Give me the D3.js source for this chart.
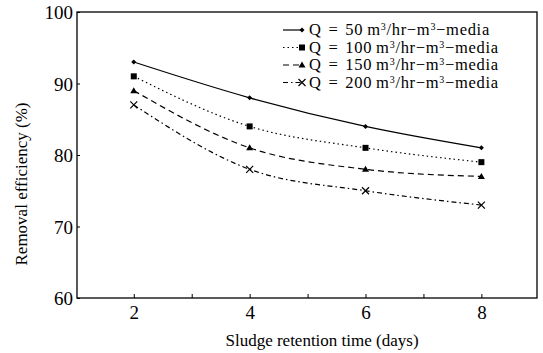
<!DOCTYPE html>
<html><head><meta charset="utf-8">
<script src="https://cdnjs.cloudflare.com/ajax/libs/d3/7.8.5/d3.min.js"></script>
<style>body{margin:0;background:#fff}svg{display:block;font-family:"Liberation Serif","Times New Roman",serif}</style>
</head><body><svg id="c" width="543" height="353"></svg>
<script>
const srt = [2, 4, 6, 8];
const q50 = [93, 88, 84, 81];
const q100 = [91, 84, 81, 79];
const q150 = [89, 81, 78, 77];
const q200 = [87, 78, 75, 73];
const seriesNames = ["50", "100", "150", "200"];
const xTicks = [2, 4, 6, 8];
const yTicks = [60, 70, 80, 90, 100];

const FONT = "'Liberation Serif','Times New Roman',serif";
const svg = d3.select("#c");
const L = 77, R = 537, T = 12, B = 298;
const x = d3.scaleLinear().domain([1.02, 8.96]).range([L, R]);
const y = d3.scaleLinear().domain([60, 100]).range([B, T]);

const series = [
  {vals: q50, dash: null, marker: "dot"},
  {vals: q100, dash: "1.5,3", marker: "square"},
  {vals: q150, dash: "6,4", marker: "tri"},
  {vals: q200, dash: "5,3,1.5,3", marker: "x"}
];

svg.append("rect").attr("x", L).attr("y", T).attr("width", R - L).attr("height", B - T)
  .attr("fill", "none").attr("stroke", "#000").attr("stroke-width", 1.3);

const xa = svg.append("g").attr("transform", `translate(0,${B})`)
  .call(d3.axisBottom(x).tickValues(d3.range(2, 9, 1)).tickSize(-4).tickFormat(d => xTicks.includes(d) ? d : "").tickPadding(8));
xa.select(".domain").remove();
xa.attr("font-family", FONT);
xa.selectAll("text").attr("font-size", 19).attr("fill", "#000").attr("dy", "0.71em");
const ya = svg.append("g").attr("transform", `translate(${L},0)`)
  .call(d3.axisLeft(y).tickValues(yTicks).tickSize(-3).tickPadding(4));
ya.select(".domain").remove();
ya.attr("font-family", FONT);
ya.selectAll("text").attr("font-size", 19).attr("fill", "#000").attr("dy", "0.35em");

svg.append("text").attr("x", 322).attr("y", 346).attr("text-anchor", "middle")
  .attr("font-size", 17).text("Sludge retention time (days)");
svg.append("text").attr("transform", "translate(27,184) rotate(-90)").attr("text-anchor", "middle")
  .attr("font-size", 17).text("Removal efficiency (%)");

const line = d3.line().x((d, i) => x(srt[i])).y(d => y(d)).curve(d3.curveMonotoneX);

function marker(g, type, cx, cy) {
  if (type === "dot") g.append("path").attr("d", `M${cx-2.5},${cy}L${cx},${cy-2.5}L${cx+2.5},${cy}L${cx},${cy+2.5}Z`).attr("fill", "#000");
  else if (type === "square") g.append("rect").attr("x", cx - 3).attr("y", cy - 3).attr("width", 6).attr("height", 6).attr("fill", "#000");
  else if (type === "tri") g.append("path").attr("d", `M${cx},${cy-3.5}L${cx+3.5},${cy+2.5}L${cx-3.5},${cy+2.5}Z`).attr("fill", "#000");
  else g.append("path").attr("d", `M${cx-3.5},${cy-3.5}L${cx+3.5},${cy+3.5}M${cx-3.5},${cy+3.5}L${cx+3.5},${cy-3.5}`).attr("stroke", "#000").attr("stroke-width", 1.2);
}

series.forEach(s => {
  svg.append("path").datum(s.vals).attr("d", line).attr("fill", "none").attr("stroke", "#000")
    .attr("stroke-width", 1.2).attr("stroke-dasharray", s.dash);
  s.vals.forEach((v, i) => marker(svg, s.marker, x(srt[i]), y(v)));
});

const lg = svg.append("g");
series.forEach((s, i) => {
  const yy = 30 + i * 17.5;
  lg.append("line").attr("x1", 283).attr("x2", 302).attr("y1", yy).attr("y2", yy)
    .attr("stroke", "#000").attr("stroke-width", 1.2).attr("stroke-dasharray", s.dash);
  marker(lg, s.marker, 302, yy);
  const t = lg.append("text").attr("x", 309).attr("y", yy + 5).attr("font-size", 16.5)
    .attr("letter-spacing", 0.7).attr("word-spacing", 2);
  t.append("tspan").text(`Q = ${seriesNames[i]}\u2009m`);
  t.append("tspan").attr("dy", -5).attr("font-size", 10).text("3");
  t.append("tspan").attr("dy", 5).text("/hr\u2212m");
  t.append("tspan").attr("dy", -5).attr("font-size", 10).text("3");
  t.append("tspan").attr("dy", 5).text("\u2212media");
});
</script></body></html>
